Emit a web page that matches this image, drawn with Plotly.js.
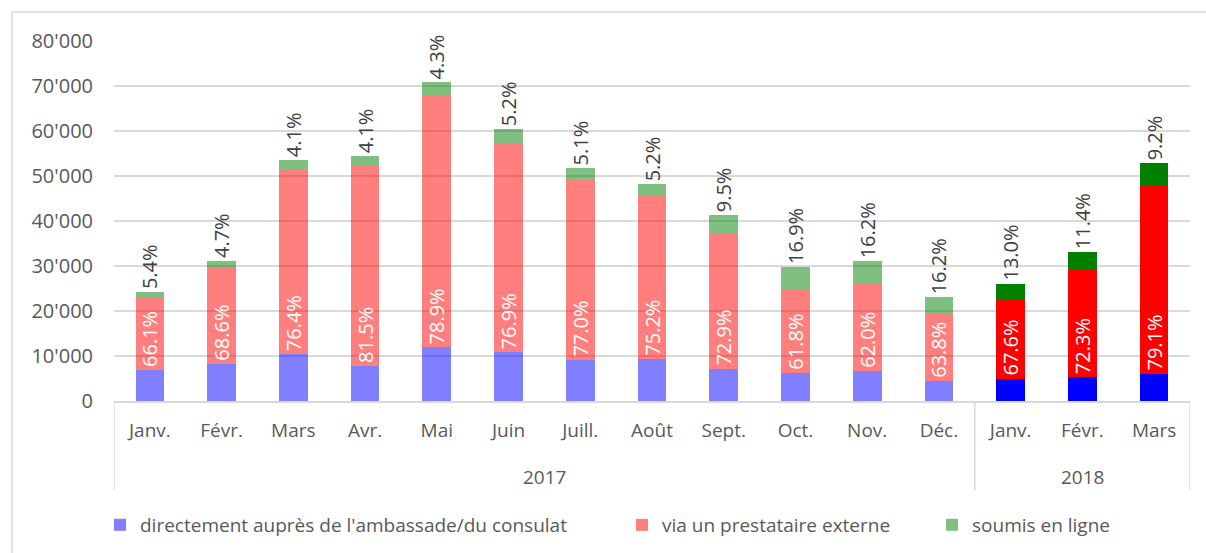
<!DOCTYPE html>
<html>
<head>
<meta charset="utf-8">
<script src="https://cdn.plot.ly/plotly-3.0.1.min.js"></script>
<style>
  html, body { margin: 0; padding: 0; background: #ffffff; }
  #chart { width: 1206px; height: 553px; }
</style>
</head>
<body>
<div id="chart"></div>
<script>
// ---- data ----
const years  = ['2017','2017','2017','2017','2017','2017','2017','2017','2017','2017','2017','2017','2018','2018','2018'];
const months = ['Janv.','Févr.','Mars','Avr.','Mai','Juin','Juill.','Août','Sept.','Oct.','Nov.','Déc.','Janv.','Févr.','Mars'];

const directAmbassade = [6900, 8300, 10400, 7800, 11900, 10800, 9200, 9400, 7200, 6300, 6700, 4500, 5000, 5300, 6100];
const viaPrestataire  = [16000, 21350, 40900, 44350, 55860, 46450, 39850, 36250, 30150, 18450, 19300, 14800, 17700, 24000, 41850];
const soumisEnLigne   = [1300, 1450, 2200, 2230, 3040, 3140, 2640, 2500, 3920, 5040, 5040, 3740, 3400, 3770, 4860];

const pctPrestataire = ['66.1%','68.6%','76.4%','81.5%','78.9%','76.9%','77.0%','75.2%','72.9%','61.8%','62.0%','63.8%','67.6%','72.3%','79.1%'];
const pctEnLigne     = ['5.4%','4.7%','4.1%','4.1%','4.3%','5.2%','5.1%','5.2%','9.5%','16.9%','16.2%','16.2%','13.0%','11.4%','9.2%'];

const seriesNames = ["directement auprès de l'ambassade/du consulat", 'via un prestataire externe', 'soumis en ligne'];

// ---- styling ----
const FONT = '"Open Sans", "DejaVu Sans", sans-serif';
const GREY_TXT = '#595959';
const GRID = '#d9d9d9';
const W = 1206, H = 553;
const L = 114, R = 16, T = 41, B = 152;

// category positions (index on the axis)
const xi = months.map((_, i) => i);
// 2017 bars are drawn semi-transparent, 2018 bars solid
const shade = (rgb) => years.map(y => (y === '2017' ? 'rgba(' + rgb + ',0.5)' : 'rgb(' + rgb + ')'));

const common = {
  type: 'bar',
  x: xi,
  hoverinfo: 'skip',
  cliponaxis: false,
  constraintext: 'none'
};

const traces = [
  Object.assign({}, common, {
    name: seriesNames[0],
    y: directAmbassade,
    marker: { color: shade('0,0,255'), line: { width: 0 } },
    legend: 'legend'
  }),
  Object.assign({}, common, {
    name: seriesNames[1],
    y: viaPrestataire,
    marker: { color: shade('255,0,0'), line: { width: 0 } },
    text: pctPrestataire,
    texttemplate: '%{text}',
    textposition: 'inside',
    insidetextanchor: 'start',
    textangle: -90,
    insidetextfont: { family: FONT, size: 20, color: '#ffffff' },
    legend: 'legend2'
  }),
  Object.assign({}, common, {
    name: seriesNames[2],
    y: soumisEnLigne,
    marker: { color: shade('0,128,0'), line: { width: 0 } },
    text: pctEnLigne,
    texttemplate: '%{text}',
    textposition: 'outside',
    textangle: -90,
    outsidetextfont: { family: FONT, size: 20, color: '#404040' },
    legend: 'legend3'
  })
];

// pixel -> paper helpers (for frame, year labels and dividers)
const px = v => (v - L) / (W - L - R);
const py = v => (H - B - v) / (H - T - B);

// year groups derived from the years array
const groups = [];
years.forEach((y, i) => {
  const g = groups[groups.length - 1];
  if (g && g.year === y) g.end = i; else groups.push({ year: y, start: i, end: i });
});

const annotations = groups.map(g => ({
  xref: 'x', yref: 'paper',
  x: (g.start + g.end) / 2, y: py(477),
  text: g.year, showarrow: false,
  xanchor: 'center', yanchor: 'middle',
  font: { family: FONT, size: 19, color: GREY_TXT }
}));

const bounds = [groups[0].start - 0.5].concat(groups.map(g => g.end + 0.5));
const shapes = bounds.map(b => ({
  type: 'line', xref: 'x', yref: 'paper',
  x0: b, x1: b, y0: py(401), y1: py(490),
  line: { color: GRID, width: 1.5 }
}));
shapes.push(
  { type: 'line', xref: 'paper', yref: 'paper', x0: px(12), x1: px(1206), y0: py(12), y1: py(12), line: { color: GRID, width: 1.5 }, layer: 'below' },
  { type: 'line', xref: 'paper', yref: 'paper', x0: px(12), x1: px(12), y0: py(12), y1: py(553), line: { color: GRID, width: 1.5 }, layer: 'below' }
);

const legendBase = {
  orientation: 'h',
  xref: 'container', yref: 'container',
  xanchor: 'left', yanchor: 'middle',
  y: 1 - 525 / H,
  bgcolor: 'rgba(0,0,0,0)',
  font: { family: FONT, size: 19, color: GREY_TXT }
};

const layout = {
  width: W, height: H,
  margin: { l: L, r: R, t: T, b: B, pad: 0 },
  paper_bgcolor: '#ffffff',
  plot_bgcolor: '#ffffff',
  barmode: 'stack',
  bargap: 0.6,
  separators: ".'",
  font: { family: FONT, size: 19, color: GREY_TXT },
  showlegend: true,
  legend:  Object.assign({}, legendBase, { x: 100 / W }),
  legend2: Object.assign({}, legendBase, { x: 622 / W }),
  legend3: Object.assign({}, legendBase, { x: 932 / W }),
  xaxis: {
    range: [-0.5, months.length - 0.5],
    tickmode: 'array',
    tickvals: xi,
    ticktext: months,
    showline: true, linecolor: GRID, linewidth: 1.5,
    showgrid: false, zeroline: false,
    ticks: '',
    ticklabelstandoff: 12,
    tickfont: { family: FONT, size: 19, color: GREY_TXT },
    fixedrange: true
  },
  yaxis: {
    range: [0, 80000],
    dtick: 10000,
    tickformat: ',d',
    showgrid: true, gridcolor: GRID, gridwidth: 1.5,
    zeroline: false,
    showline: false,
    ticks: '',
    ticklabelstandoff: 20,
    tickfont: { family: FONT, size: 20, color: GREY_TXT },
    fixedrange: true
  },
  annotations: annotations,
  shapes: shapes
};

Plotly.newPlot('chart', traces, layout, { staticPlot: true, displayModeBar: false });
</script>
</body>
</html>
